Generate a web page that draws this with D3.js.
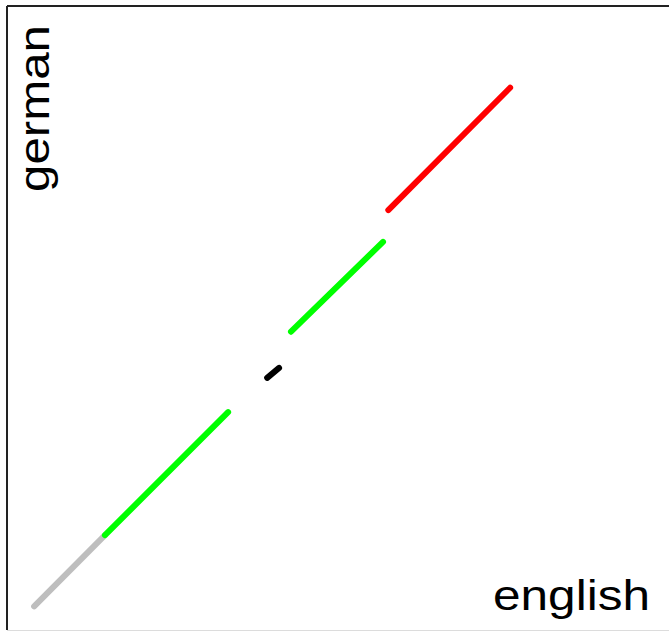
<!DOCTYPE html>
<html>
<head>
<meta charset="utf-8">
<script src="https://cdn.jsdelivr.net/npm/d3@7"></script>
<style>
  html, body { margin: 0; padding: 0; background: #fff; }
  svg { display: block; }
</style>
</head>
<body>
<svg id="chart" width="669" height="632"></svg>
<script>
// Segment groups: english (x) and german (y) start/end values
const groups   = ["low", "lower-mid", "middle", "upper-mid", "high"];
const colours  = ["#bebebe", "#00ff00", "#000000", "#00ff00", "#ff0000"];
const xStart   = [4.1, 14.8, 39.3, 42.9, 57.6];
const xEnd     = [14.8, 33.4, 41.1, 56.8, 76.0];
const yStart   = [3.8, 15.2, 40.4, 47.8, 67.3];
const yEnd     = [15.2, 34.9, 42.0, 62.2, 86.9];
const xLabel   = "english";
const yLabel   = "german";

const svg = d3.select("#chart");
const W = 669, H = 632;
const frame = { left: 7, top: 6, bottom: 630, right: 669 };

const x = d3.scaleLinear().domain([0, 100]).range([frame.left, frame.right]);
const y = d3.scaleLinear().domain([0, 100]).range([frame.bottom, frame.top]);

// plot frame
svg.append("line").attr("x1", frame.left).attr("x2", W).attr("y1", frame.top).attr("y2", frame.top)
  .attr("stroke", "#222").attr("stroke-width", 2);
svg.append("line").attr("x1", frame.left).attr("x2", frame.left).attr("y1", frame.top).attr("y2", frame.bottom)
  .attr("stroke", "#222").attr("stroke-width", 2);
svg.append("line").attr("x1", frame.left).attr("x2", W).attr("y1", frame.bottom + 0.5).attr("y2", frame.bottom + 0.5)
  .attr("stroke", "#dcdcdc").attr("stroke-width", 1);

const segs = groups.map((g, i) => ({
  g, c: colours[i], x0: xStart[i], x1: xEnd[i], y0: yStart[i], y1: yEnd[i]
}));

svg.append("g").selectAll("line").data(segs).join("line")
  .attr("x1", d => x(d.x0)).attr("y1", d => y(d.y0))
  .attr("x2", d => x(d.x1)).attr("y2", d => y(d.y1))
  .attr("stroke", d => d.c)
  .attr("stroke-width", 6)
  .attr("stroke-linecap", "round");

const font = "'Liberation Sans', Arial, sans-serif";

svg.append("text")
  .attr("x", 650).attr("y", 610)
  .attr("text-anchor", "end")
  .attr("font-family", font).attr("font-size", 42)
  .attr("textLength", 157).attr("lengthAdjust", "spacingAndGlyphs")
  .attr("fill", "#000")
  .text(xLabel);

svg.append("text")
  .attr("transform", "translate(49,25) rotate(-90)")
  .attr("text-anchor", "end")
  .attr("font-family", font).attr("font-size", 42)
  .attr("textLength", 167).attr("lengthAdjust", "spacingAndGlyphs")
  .attr("fill", "#000")
  .text(yLabel);
</script>
</body>
</html>
